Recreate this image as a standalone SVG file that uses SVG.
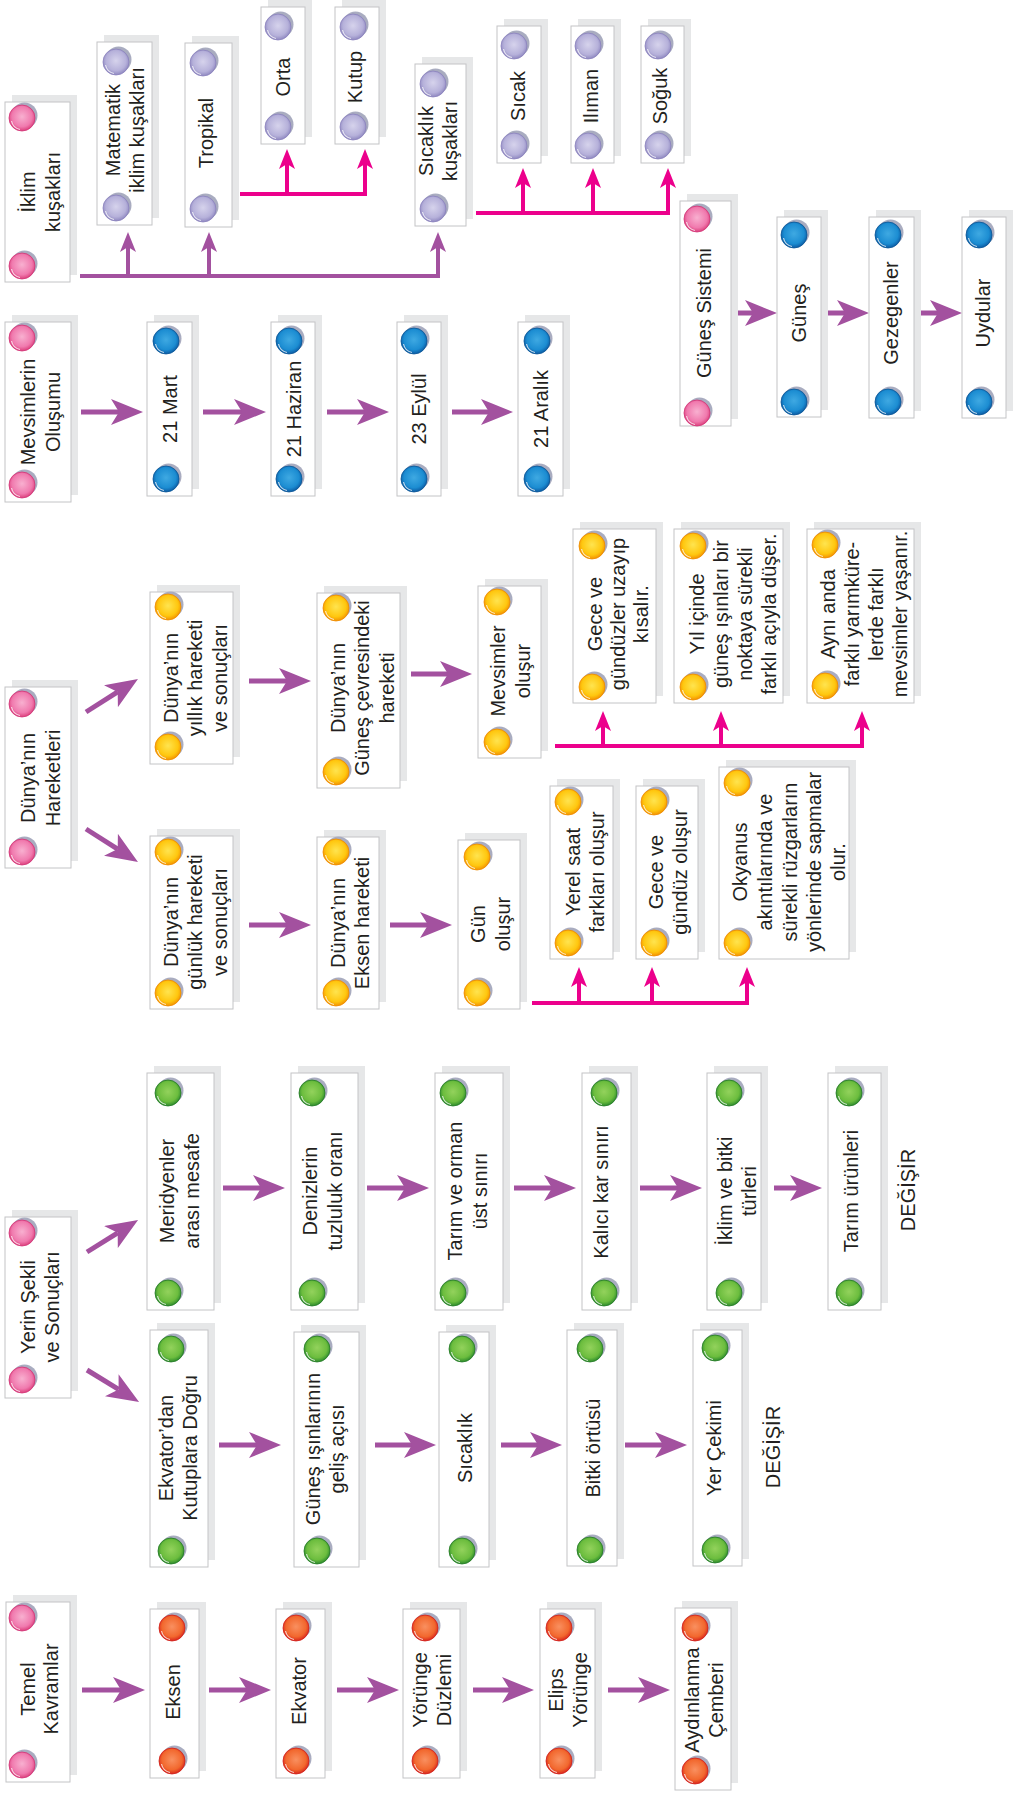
<svg xmlns="http://www.w3.org/2000/svg" width="1015" height="1794" viewBox="0 0 1015 1794">
<style>
.sh{fill:#e6e7e8}
.bx{fill:#fff;stroke:#c3c4c6;stroke-width:1}
.t{font-family:"Liberation Sans",Arial,Helvetica,sans-serif;font-size:20px;fill:#231f20;text-anchor:middle}
.pa{fill:none;stroke:#a3519f;stroke-width:5;marker-end:url(#aBig)}
.pb{fill:none;stroke:#a3519f;stroke-width:4;marker-end:url(#aSmP)}
.pk{fill:none;stroke:#ec008c;stroke-width:4;marker-end:url(#aSmK)}
.hl{fill:none;stroke:#fff;stroke-opacity:.75;stroke-width:1.2}
.ds{fill:#a9acc0}
</style>
<defs>
<marker id="aBig" markerUnits="userSpaceOnUse" markerWidth="32" markerHeight="26" viewBox="0 0 32 26" refX="8" refY="13" orient="auto"><path d="M0,0 L32,13 L0,26 L8,13 Z" fill="#a3519f"/></marker>
<marker id="aSmP" markerUnits="userSpaceOnUse" markerWidth="20" markerHeight="16" viewBox="0 0 20 16" refX="5" refY="8" orient="auto"><path d="M0,0 L20,8 L0,16 L5,8 Z" fill="#a3519f"/></marker>
<marker id="aSmK" markerUnits="userSpaceOnUse" markerWidth="20" markerHeight="16" viewBox="0 0 20 16" refX="5" refY="8" orient="auto"><path d="M0,0 L20,8 L0,16 L5,8 Z" fill="#ec008c"/></marker>
<radialGradient id="gPk" cx="50%" cy="45%" r="55%"><stop offset="0" stop-color="#f8b0d0"/><stop offset=".7" stop-color="#f07aae"/><stop offset="1" stop-color="#dc3f7c"/></radialGradient>
<radialGradient id="gLv" cx="50%" cy="45%" r="55%"><stop offset="0" stop-color="#d6d3ec"/><stop offset=".7" stop-color="#b6b1da"/><stop offset="1" stop-color="#8e87c0"/></radialGradient>
<radialGradient id="gBl" cx="50%" cy="45%" r="55%"><stop offset="0" stop-color="#3fa9e2"/><stop offset=".7" stop-color="#1c8dd2"/><stop offset="1" stop-color="#0b5aa3"/></radialGradient>
<radialGradient id="gYe" cx="50%" cy="45%" r="55%"><stop offset="0" stop-color="#ffe44f"/><stop offset=".7" stop-color="#ffc70f"/><stop offset="1" stop-color="#f39200"/></radialGradient>
<radialGradient id="gGr" cx="50%" cy="45%" r="55%"><stop offset="0" stop-color="#93d25c"/><stop offset=".7" stop-color="#6cbd3e"/><stop offset="1" stop-color="#2b8a2c"/></radialGradient>
<radialGradient id="gRd" cx="50%" cy="45%" r="55%"><stop offset="0" stop-color="#f99060"/><stop offset=".7" stop-color="#f2682e"/><stop offset="1" stop-color="#d9261c"/></radialGradient>
<g id="dPk"><circle class="ds" cx="2.5" cy="-2.5" r="13"/><circle r="13" fill="url(#gPk)" stroke="#d23476" stroke-width=".8"/><path class="hl" d="M-10.5,3 A11,11 0 0 0 -2,11.5"/></g>
<g id="dLv"><circle class="ds" cx="2.5" cy="-2.5" r="13"/><circle r="13" fill="url(#gLv)" stroke="#8a82bd" stroke-width=".8"/><path class="hl" d="M-10.5,3 A11,11 0 0 0 -2,11.5"/></g>
<g id="dBl"><circle class="ds" cx="2.5" cy="-2.5" r="13"/><circle r="13" fill="url(#gBl)" stroke="#0a5596" stroke-width=".8"/><path class="hl" d="M-10.5,3 A11,11 0 0 0 -2,11.5"/></g>
<g id="dYe"><circle class="ds" cx="2.5" cy="-2.5" r="13"/><circle r="13" fill="url(#gYe)" stroke="#ee8a00" stroke-width=".8"/><path class="hl" d="M-10.5,3 A11,11 0 0 0 -2,11.5"/></g>
<g id="dGr"><circle class="ds" cx="2.5" cy="-2.5" r="13"/><circle r="13" fill="url(#gGr)" stroke="#237a25" stroke-width=".8"/><path class="hl" d="M-10.5,3 A11,11 0 0 0 -2,11.5"/></g>
<g id="dRd"><circle class="ds" cx="2.5" cy="-2.5" r="13"/><circle r="13" fill="url(#gRd)" stroke="#d0201a" stroke-width=".8"/><path class="hl" d="M-10.5,3 A11,11 0 0 0 -2,11.5"/></g>
</defs>

<g id="connectors">
<path class="pb" d="M80,276 H438 V247"/>
<path class="pb" d="M128,276 V247"/>
<path class="pb" d="M209,276 V247"/>
<path class="pk" d="M240,194 H365 V164"/>
<path class="pk" d="M287,194 V164"/>
<path class="pk" d="M476,213 H668 V183"/>
<path class="pk" d="M523,213 V183"/>
<path class="pk" d="M593,213 V183"/>
<path class="pa" d="M738,313 H753"/>
<path class="pa" d="M828,313 H845"/>
<path class="pa" d="M921,313 H938"/>
<path class="pa" d="M81,412 H119"/>
<path class="pa" d="M203,412 H242"/>
<path class="pa" d="M327,412 H365"/>
<path class="pa" d="M452,412 H489"/>
<path class="pa" d="M86,712 L117.7,691.9"/>
<path class="pa" d="M86,829 L117.7,849.1"/>
<path class="pa" d="M249,681 H287"/>
<path class="pa" d="M411,674 H448"/>
<path class="pa" d="M249,925 H287"/>
<path class="pa" d="M390,925 H428"/>
<path class="pk" d="M555,746 H862 V726"/>
<path class="pk" d="M603,746 V726"/>
<path class="pk" d="M721,746 V726"/>
<path class="pk" d="M532,1003 H747 V982"/>
<path class="pk" d="M579,1003 V982"/>
<path class="pk" d="M652,1003 V982"/>
<path class="pa" d="M87,1252 L117.7,1232.8"/>
<path class="pa" d="M87,1370 L118.6,1389.4"/>
<path class="pa" d="M223,1188 H261"/>
<path class="pa" d="M367,1188 H405"/>
<path class="pa" d="M514,1188 H552"/>
<path class="pa" d="M640,1188 H678"/>
<path class="pa" d="M774,1188 H798"/>
<path class="pa" d="M219,1445 H257"/>
<path class="pa" d="M375,1445 H412"/>
<path class="pa" d="M501,1445 H538"/>
<path class="pa" d="M625,1445 H663"/>
<path class="pa" d="M82,1690 H121"/>
<path class="pa" d="M209,1690 H247"/>
<path class="pa" d="M337,1690 H375"/>
<path class="pa" d="M473,1690 H510"/>
<path class="pa" d="M608,1690 H646"/>
</g>

<g id="n-iklim"><rect class="sh" x="12" y="95" width="65" height="180"/><rect class="bx" x="5" y="102" width="65" height="180"/><use href="#dPk" x="22" y="118"/><use href="#dPk" x="22" y="266"/><text class="t" transform="translate(0,192) rotate(-90)"><tspan x="0" y="35">İklim</tspan><tspan x="0" y="60">kuşakları</tspan></text></g>
<g id="n-matematik"><rect class="sh" x="104" y="35" width="55" height="183"/><rect class="bx" x="97" y="42" width="55" height="183"/><use href="#dLv" x="116" y="62"/><use href="#dLv" x="116" y="208"/><text class="t" transform="translate(0,130) rotate(-90)"><tspan x="0" y="120">Matematik</tspan><tspan x="0" y="144">iklim kuşakları</tspan></text></g>
<g id="n-tropikal"><rect class="sh" x="192" y="36" width="47" height="184"/><rect class="bx" x="185" y="43" width="47" height="184"/><use href="#dLv" x="203" y="63"/><use href="#dLv" x="203" y="209"/><text class="t" transform="translate(0,133) rotate(-90)"><tspan x="0" y="213">Tropikal</tspan></text></g>
<g id="n-orta"><rect class="sh" x="268" y="0" width="44" height="137"/><rect class="bx" x="261" y="7" width="44" height="137"/><use href="#dLv" x="278" y="27"/><use href="#dLv" x="278" y="127"/><text class="t" transform="translate(0,77) rotate(-90)"><tspan x="0" y="290">Orta</tspan></text></g>
<g id="n-kutup"><rect class="sh" x="342" y="0" width="44" height="137"/><rect class="bx" x="335" y="7" width="44" height="137"/><use href="#dLv" x="353" y="27"/><use href="#dLv" x="353" y="127"/><text class="t" transform="translate(0,77) rotate(-90)"><tspan x="0" y="362">Kutup</tspan></text></g>
<g id="n-sicaklik"><rect class="sh" x="422" y="57" width="51" height="162"/><rect class="bx" x="415" y="64" width="51" height="162"/><use href="#dLv" x="433" y="84"/><use href="#dLv" x="433" y="209"/><text class="t" transform="translate(0,141) rotate(-90)"><tspan x="0" y="433">Sıcaklık</tspan><tspan x="0" y="457">kuşakları</tspan></text></g>
<g id="n-sicak"><rect class="sh" x="504" y="19" width="44" height="137"/><rect class="bx" x="497" y="26" width="44" height="137"/><use href="#dLv" x="514" y="46"/><use href="#dLv" x="514" y="146"/><text class="t" transform="translate(0,96) rotate(-90)"><tspan x="0" y="525">Sıcak</tspan></text></g>
<g id="n-iliman"><rect class="sh" x="578" y="19" width="43" height="137"/><rect class="bx" x="571" y="26" width="43" height="137"/><use href="#dLv" x="588" y="46"/><use href="#dLv" x="588" y="146"/><text class="t" transform="translate(0,96) rotate(-90)"><tspan x="0" y="598">Ilıman</tspan></text></g>
<g id="n-soguk"><rect class="sh" x="648" y="19" width="43" height="137"/><rect class="bx" x="641" y="26" width="43" height="137"/><use href="#dLv" x="658" y="46"/><use href="#dLv" x="658" y="146"/><text class="t" transform="translate(0,96) rotate(-90)"><tspan x="0" y="667">Soğuk</tspan></text></g>

<g id="n-gunes-sistemi"><rect class="sh" x="687" y="194" width="51" height="225"/><rect class="bx" x="680" y="201" width="51" height="225"/><use href="#dPk" x="697" y="219"/><use href="#dPk" x="697" y="413"/><text class="t" transform="translate(0,313) rotate(-90)"><tspan x="0" y="711">Güneş Sistemi</tspan></text></g>
<g id="n-gunes"><rect class="sh" x="784" y="210" width="44" height="200"/><rect class="bx" x="777" y="217" width="44" height="200"/><use href="#dBl" x="794" y="235"/><use href="#dBl" x="794" y="402"/><text class="t" transform="translate(0,313) rotate(-90)"><tspan x="0" y="806">Güneş</tspan></text></g>
<g id="n-gezegenler"><rect class="sh" x="876" y="210" width="45" height="201"/><rect class="bx" x="869" y="217" width="45" height="201"/><use href="#dBl" x="888" y="235"/><use href="#dBl" x="888" y="402"/><text class="t" transform="translate(0,313) rotate(-90)"><tspan x="0" y="898">Gezegenler</tspan></text></g>
<g id="n-uydular"><rect class="sh" x="969" y="210" width="44" height="201"/><rect class="bx" x="962" y="217" width="44" height="201"/><use href="#dBl" x="979" y="235"/><use href="#dBl" x="979" y="402"/><text class="t" transform="translate(0,313) rotate(-90)"><tspan x="0" y="990">Uydular</tspan></text></g>

<g id="n-mevsimlerin"><rect class="sh" x="12" y="315" width="66" height="180"/><rect class="bx" x="5" y="322" width="66" height="180"/><use href="#dPk" x="22" y="338"/><use href="#dPk" x="22" y="485"/><text class="t" transform="translate(0,412) rotate(-90)"><tspan x="0" y="35">Mevsimlerin</tspan><tspan x="0" y="60">Oluşumu</tspan></text></g>
<g id="n-21mart"><rect class="sh" x="154" y="315" width="45" height="174"/><rect class="bx" x="147" y="322" width="45" height="174"/><use href="#dBl" x="166" y="341"/><use href="#dBl" x="166" y="479"/><text class="t" transform="translate(0,409) rotate(-90)"><tspan x="0" y="177">21 Mart</tspan></text></g>
<g id="n-21haziran"><rect class="sh" x="278" y="315" width="44" height="174"/><rect class="bx" x="271" y="322" width="44" height="174"/><use href="#dBl" x="289" y="341"/><use href="#dBl" x="289" y="479"/><text class="t" transform="translate(0,409) rotate(-90)"><tspan x="0" y="301">21 Haziran</tspan></text></g>
<g id="n-23eylul"><rect class="sh" x="404" y="315" width="44" height="174"/><rect class="bx" x="397" y="322" width="44" height="174"/><use href="#dBl" x="414" y="341"/><use href="#dBl" x="414" y="479"/><text class="t" transform="translate(0,409) rotate(-90)"><tspan x="0" y="426">23 Eylül</tspan></text></g>
<g id="n-21aralik"><rect class="sh" x="525" y="315" width="45" height="174"/><rect class="bx" x="518" y="322" width="45" height="174"/><use href="#dBl" x="537" y="341"/><use href="#dBl" x="537" y="479"/><text class="t" transform="translate(0,409) rotate(-90)"><tspan x="0" y="548">21 Aralık</tspan></text></g>

<g id="n-dunya"><rect class="sh" x="12" y="680" width="66" height="181"/><rect class="bx" x="5" y="687" width="66" height="181"/><use href="#dPk" x="22" y="704"/><use href="#dPk" x="22" y="852"/><text class="t" transform="translate(0,778) rotate(-90)"><tspan x="0" y="35">Dünya’nın</tspan><tspan x="0" y="60">Hareketleri</tspan></text></g>
<g id="n-yillik"><rect class="sh" x="157" y="585" width="83" height="172"/><rect class="bx" x="150" y="592" width="83" height="172"/><use href="#dYe" x="168" y="607"/><use href="#dYe" x="168" y="747"/><text class="t" transform="translate(0,678) rotate(-90)"><tspan x="0" y="178">Dünya’nın</tspan><tspan x="0" y="202">yıllık hareketi</tspan><tspan x="0" y="227">ve sonuçları</tspan></text></g>
<g id="n-cevresi"><rect class="sh" x="324" y="586" width="83" height="195"/><rect class="bx" x="317" y="593" width="83" height="195"/><use href="#dYe" x="336" y="608"/><use href="#dYe" x="336" y="772"/><text class="t" transform="translate(0,688) rotate(-90)"><tspan x="0" y="345">Dünya’nın</tspan><tspan x="0" y="369">Güneş çevresindeki</tspan><tspan x="0" y="394">hareketi</tspan></text></g>
<g id="n-mevsimler"><rect class="sh" x="485" y="579" width="63" height="172"/><rect class="bx" x="478" y="586" width="63" height="172"/><use href="#dYe" x="497" y="602"/><use href="#dYe" x="497" y="742"/><text class="t" transform="translate(0,671) rotate(-90)"><tspan x="0" y="505">Mevsimler</tspan><tspan x="0" y="530">oluşur</tspan></text></g>
<g id="n-gece-kisalir"><rect class="sh" x="580" y="522" width="83" height="174"/><rect class="bx" x="573" y="529" width="83" height="174"/><use href="#dYe" x="592" y="546"/><use href="#dYe" x="592" y="687"/><text class="t" transform="translate(0,614) rotate(-90)"><tspan x="0" y="602">Gece ve</tspan><tspan x="0" y="625">gündüzler uzayıp</tspan><tspan x="0" y="648">kısalır.</tspan></text></g>
<g id="n-yil-icinde"><rect class="sh" x="681" y="522" width="109" height="174"/><rect class="bx" x="674" y="529" width="109" height="174"/><use href="#dYe" x="693" y="546"/><use href="#dYe" x="693" y="687"/><text class="t" transform="translate(0,614) rotate(-90)"><tspan x="0" y="704">Yıl içinde</tspan><tspan x="0" y="728">güneş ışınları bir</tspan><tspan x="0" y="752">noktaya sürekli</tspan><tspan x="0" y="776">farklı açıyla düşer.</tspan></text></g>
<g id="n-ayni-anda"><rect class="sh" x="814" y="522" width="107" height="174"/><rect class="bx" x="807" y="529" width="107" height="174"/><use href="#dYe" x="825" y="545"/><use href="#dYe" x="825" y="686"/><text class="t" transform="translate(0,614) rotate(-90)"><tspan x="0" y="835">Aynı anda</tspan><tspan x="0" y="859">farklı yarımküre-</tspan><tspan x="0" y="883">lerde farklı</tspan><tspan x="0" y="907">mevsimler yaşanır.</tspan></text></g>
<g id="n-gunluk"><rect class="sh" x="157" y="829" width="83" height="173"/><rect class="bx" x="150" y="836" width="83" height="173"/><use href="#dYe" x="168" y="852"/><use href="#dYe" x="168" y="993"/><text class="t" transform="translate(0,922) rotate(-90)"><tspan x="0" y="178">Dünya’nın</tspan><tspan x="0" y="202">günlük hareketi</tspan><tspan x="0" y="227">ve sonuçları</tspan></text></g>
<g id="n-eksen-hareketi"><rect class="sh" x="324" y="830" width="62" height="172"/><rect class="bx" x="317" y="837" width="62" height="172"/><use href="#dYe" x="336" y="852"/><use href="#dYe" x="336" y="993"/><text class="t" transform="translate(0,923) rotate(-90)"><tspan x="0" y="345">Dünya’nın</tspan><tspan x="0" y="369">Eksen hareketi</tspan></text></g>
<g id="n-gun-olusur"><rect class="sh" x="465" y="833" width="62" height="169"/><rect class="bx" x="458" y="840" width="62" height="169"/><use href="#dYe" x="477" y="857"/><use href="#dYe" x="477" y="993"/><text class="t" transform="translate(0,924) rotate(-90)"><tspan x="0" y="485">Gün</tspan><tspan x="0" y="510">oluşur</tspan></text></g>
<g id="n-yerel-saat"><rect class="sh" x="557" y="779" width="63" height="173"/><rect class="bx" x="550" y="786" width="63" height="173"/><use href="#dYe" x="568" y="802"/><use href="#dYe" x="568" y="943"/><text class="t" transform="translate(0,872) rotate(-90)"><tspan x="0" y="580">Yerel saat</tspan><tspan x="0" y="604">farkları oluşur</tspan></text></g>
<g id="n-gece-gunduz"><rect class="sh" x="643" y="779" width="62" height="173"/><rect class="bx" x="636" y="786" width="62" height="173"/><use href="#dYe" x="654" y="802"/><use href="#dYe" x="654" y="943"/><text class="t" transform="translate(0,872) rotate(-90)"><tspan x="0" y="663">Gece ve</tspan><tspan x="0" y="687">gündüz oluşur</tspan></text></g>
<g id="n-okyanus"><rect class="sh" x="726" y="760" width="130" height="192"/><rect class="bx" x="719" y="767" width="130" height="192"/><use href="#dYe" x="737" y="783"/><use href="#dYe" x="737" y="943"/><text class="t" transform="translate(0,862) rotate(-90)"><tspan x="0" y="747">Okyanus</tspan><tspan x="0" y="772">akıntılarında ve</tspan><tspan x="0" y="797">sürekli rüzgarların</tspan><tspan x="0" y="821">yönlerinde sapmalar</tspan><tspan x="0" y="845">olur.</tspan></text></g>

<g id="n-yerin"><rect class="sh" x="12" y="1210" width="66" height="181"/><rect class="bx" x="5" y="1217" width="66" height="181"/><use href="#dPk" x="22" y="1233"/><use href="#dPk" x="22" y="1380"/><text class="t" transform="translate(0,1307) rotate(-90)"><tspan x="0" y="35">Yerin Şekli</tspan><tspan x="0" y="59">ve Sonuçları</tspan></text></g>
<g id="n-meridyenler"><rect class="sh" x="154" y="1066" width="67" height="237"/><rect class="bx" x="147" y="1073" width="67" height="237"/><use href="#dGr" x="168" y="1093"/><use href="#dGr" x="168" y="1293"/><text class="t" transform="translate(0,1191) rotate(-90)"><tspan x="0" y="174">Meridyenler</tspan><tspan x="0" y="199">arası mesafe</tspan></text></g>
<g id="n-denizlerin"><rect class="sh" x="298" y="1066" width="67" height="237"/><rect class="bx" x="291" y="1073" width="67" height="237"/><use href="#dGr" x="312" y="1093"/><use href="#dGr" x="312" y="1293"/><text class="t" transform="translate(0,1191) rotate(-90)"><tspan x="0" y="317">Denizlerin</tspan><tspan x="0" y="342">tuzluluk oranı</tspan></text></g>
<g id="n-tarim-orman"><rect class="sh" x="442" y="1066" width="68" height="237"/><rect class="bx" x="435" y="1073" width="68" height="237"/><use href="#dGr" x="453" y="1093"/><use href="#dGr" x="453" y="1293"/><text class="t" transform="translate(0,1191) rotate(-90)"><tspan x="0" y="462">Tarım ve orman</tspan><tspan x="0" y="487">üst sınırı</tspan></text></g>
<g id="n-kalici"><rect class="sh" x="589" y="1066" width="49" height="237"/><rect class="bx" x="582" y="1073" width="49" height="237"/><use href="#dGr" x="604" y="1093"/><use href="#dGr" x="604" y="1293"/><text class="t" transform="translate(0,1192) rotate(-90)"><tspan x="0" y="608">Kalıcı kar sınırı</tspan></text></g>
<g id="n-iklim-bitki"><rect class="sh" x="714" y="1066" width="54" height="237"/><rect class="bx" x="707" y="1073" width="54" height="237"/><use href="#dGr" x="729" y="1093"/><use href="#dGr" x="729" y="1293"/><text class="t" transform="translate(0,1191) rotate(-90)"><tspan x="0" y="732">İklim ve bitki</tspan><tspan x="0" y="756">türleri</tspan></text></g>
<g id="n-tarim-urunleri"><rect class="sh" x="835" y="1066" width="53" height="237"/><rect class="bx" x="828" y="1073" width="53" height="237"/><use href="#dGr" x="849" y="1093"/><use href="#dGr" x="849" y="1293"/><text class="t" transform="translate(0,1191) rotate(-90)"><tspan x="0" y="858">Tarım ürünleri</tspan></text></g>
<g id="l-degisir-1"><text class="t" transform="translate(0,1190) rotate(-90)"><tspan x="0" y="915">DEĞİŞİR</tspan></text></g>

<g id="n-ekvatordan"><rect class="sh" x="157" y="1323" width="58" height="237"/><rect class="bx" x="150" y="1330" width="58" height="237"/><use href="#dGr" x="171" y="1349"/><use href="#dGr" x="171" y="1551"/><text class="t" transform="translate(0,1448) rotate(-90)"><tspan x="0" y="173">Ekvator’dan</tspan><tspan x="0" y="197">Kutuplara Doğru</tspan></text></g>
<g id="n-gunes-isinlari"><rect class="sh" x="301" y="1325" width="65" height="235"/><rect class="bx" x="294" y="1332" width="65" height="235"/><use href="#dGr" x="317" y="1349"/><use href="#dGr" x="317" y="1551"/><text class="t" transform="translate(0,1449) rotate(-90)"><tspan x="0" y="320">Güneş ışınlarının</tspan><tspan x="0" y="344">geliş açısı</tspan></text></g>
<g id="n-sicaklik-2"><rect class="sh" x="446" y="1325" width="50" height="235"/><rect class="bx" x="439" y="1332" width="50" height="235"/><use href="#dGr" x="462" y="1349"/><use href="#dGr" x="462" y="1551"/><text class="t" transform="translate(0,1448) rotate(-90)"><tspan x="0" y="472">Sıcaklık</tspan></text></g>
<g id="n-bitki"><rect class="sh" x="574" y="1323" width="50" height="236"/><rect class="bx" x="567" y="1330" width="50" height="236"/><use href="#dGr" x="590" y="1349"/><use href="#dGr" x="590" y="1550"/><text class="t" transform="translate(0,1448) rotate(-90)"><tspan x="0" y="600">Bitki örtüsü</tspan></text></g>
<g id="n-yer-cekimi"><rect class="sh" x="700" y="1323" width="49" height="236"/><rect class="bx" x="693" y="1330" width="49" height="236"/><use href="#dGr" x="715" y="1348"/><use href="#dGr" x="715" y="1550"/><text class="t" transform="translate(0,1448) rotate(-90)"><tspan x="0" y="721">Yer Çekimi</tspan></text></g>
<g id="l-degisir-2"><text class="t" transform="translate(0,1447) rotate(-90)"><tspan x="0" y="780">DEĞİŞİR</tspan></text></g>

<g id="n-temel"><rect class="sh" x="13" y="1595" width="64" height="180"/><rect class="bx" x="6" y="1602" width="64" height="180"/><use href="#dPk" x="22" y="1618"/><use href="#dPk" x="22" y="1765"/><text class="t" transform="translate(0,1689) rotate(-90)"><tspan x="0" y="35">Temel</tspan><tspan x="0" y="58">Kavramlar</tspan></text></g>
<g id="n-eksen"><rect class="sh" x="157" y="1602" width="49" height="169"/><rect class="bx" x="150" y="1609" width="49" height="169"/><use href="#dRd" x="172" y="1628"/><use href="#dRd" x="172" y="1761"/><text class="t" transform="translate(0,1692) rotate(-90)"><tspan x="0" y="180">Eksen</tspan></text></g>
<g id="n-ekvator"><rect class="sh" x="283" y="1602" width="49" height="169"/><rect class="bx" x="276" y="1609" width="49" height="169"/><use href="#dRd" x="296" y="1628"/><use href="#dRd" x="296" y="1761"/><text class="t" transform="translate(0,1691) rotate(-90)"><tspan x="0" y="306">Ekvator</tspan></text></g>
<g id="n-yorunge-duzlemi"><rect class="sh" x="410" y="1602" width="57" height="169"/><rect class="bx" x="403" y="1609" width="57" height="169"/><use href="#dRd" x="425" y="1628"/><use href="#dRd" x="425" y="1761"/><text class="t" transform="translate(0,1690) rotate(-90)"><tspan x="0" y="427">Yörünge</tspan><tspan x="0" y="451">Düzlemi</tspan></text></g>
<g id="n-elips"><rect class="sh" x="547" y="1602" width="55" height="169"/><rect class="bx" x="540" y="1609" width="55" height="169"/><use href="#dRd" x="559" y="1628"/><use href="#dRd" x="559" y="1761"/><text class="t" transform="translate(0,1690) rotate(-90)"><tspan x="0" y="563">Elips</tspan><tspan x="0" y="587">Yörünge</tspan></text></g>
<g id="n-aydinlanma"><rect class="sh" x="682" y="1601" width="56" height="182"/><rect class="bx" x="675" y="1608" width="56" height="182"/><use href="#dRd" x="695" y="1628"/><use href="#dRd" x="695" y="1771"/><text class="t" transform="translate(0,1700) rotate(-90)"><tspan x="0" y="699">Aydınlanma</tspan><tspan x="0" y="723">Çemberi</tspan></text></g>
</svg>
